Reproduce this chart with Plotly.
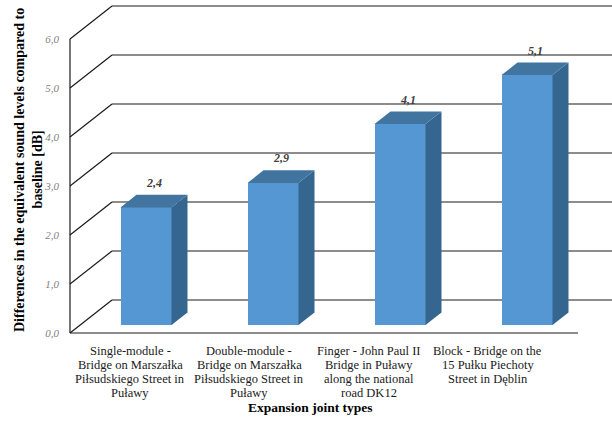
import plotly.graph_objects as go

# ---- data -------------------------------------------------------------
categories = [
    "Single-module -<br>Bridge on Marszałka<br>Piłsudskiego Street in<br>Puławy",
    "Double-module -<br>Bridge on Marszałka<br>Piłsudskiego Street in<br>Puławy",
    "Finger - John Paul II<br>Bridge in Puławy<br>along the national<br>road DK12",
    "Block - Bridge on the<br>15 Pułku Piechoty<br>Street in Dęblin",
]
values = [2.4, 2.9, 4.1, 5.1]
y_ticks = [0, 1, 2, 3, 4, 5, 6]

y_title = ["Differences in the equivalent sound levels compared to", "baseline [dB]"]
x_title = "Expansion joint types"

# ---- geometry (pixel scale of the pseudo-3D box) ------------------------
W, H = 612, 426
M_L, M_R, M_T, M_B = 66, 0, 0, 86
PX_PER_CAT = 127.0         # horizontal pixels per category
PX_PER_DB = 49.0           # vertical pixels per dB
FRONT_LEFT_PX = 70.0       # left edge of front plane
FRONT_ZERO_PX = 333.0      # baseline of front plane


def px_to_x(px):
    return (px - FRONT_LEFT_PX) / PX_PER_CAT - 0.5


def py_to_y(py):
    return (FRONT_ZERO_PX - py) / PX_PER_DB


def px_to_paper(px):
    return (px - M_L) / (W - M_L - M_R)


def py_to_paper(py):
    return (H - M_B - py) / (H - M_T - M_B)


x_range = [px_to_x(M_L), px_to_x(W - M_R)]
y_range = [py_to_y(H - M_B), py_to_y(M_T)]

# depth of the whole box (front plane -> back wall)
DX, DY = 42 / PX_PER_CAT, 33 / PX_PER_DB
# plane of the bars' front faces, and the bars' own depth
BAR_SHIFT_X, BAR_SHIFT_Y = 12.5 / PX_PER_CAT, 8 / PX_PER_DB
BAR_DX, BAR_DY = 16 / PX_PER_CAT, 12.6 / PX_PER_DB
BAR_W = 51 / PX_PER_CAT

n = len(categories)
x_front_left, x_front_right = -0.5, n - 0.5

COL_FRONT = "#5597d2"
COL_SIDE = "#35668f"
COL_TOP = "#41749f"
COL_LINE = "#1a1a1a"
SERIF = "Liberation Serif"

fig = go.Figure()

# front faces of the bars
bar_x = [i + BAR_SHIFT_X for i in range(n)]
fig.add_trace(go.Bar(
    x=bar_x, y=values, base=[BAR_SHIFT_Y] * n, width=BAR_W,
    marker=dict(color=COL_FRONT, line=dict(width=0)),
    hoverinfo="skip", showlegend=False,
))

# side and top faces
for xc, v in zip(bar_x, values):
    xr, xl = xc + BAR_W / 2, xc - BAR_W / 2
    y0, y1 = BAR_SHIFT_Y, BAR_SHIFT_Y + v
    fig.add_trace(go.Scatter(
        x=[xr, xr + BAR_DX, xr + BAR_DX, xr, xr],
        y=[y0, y0 + BAR_DY, y1 + BAR_DY, y1, y0],
        fill="toself", fillcolor=COL_SIDE, mode="lines",
        line=dict(width=0, color=COL_SIDE), hoverinfo="skip", showlegend=False,
    ))
    fig.add_trace(go.Scatter(
        x=[xl, xr, xr + BAR_DX, xl + BAR_DX, xl],
        y=[y1, y1, y1 + BAR_DY, y1 + BAR_DY, y1],
        fill="toself", fillcolor=COL_TOP, mode="lines",
        line=dict(width=0, color=COL_TOP), hoverinfo="skip", showlegend=False,
    ))

# box: back-wall gridlines, side-wall diagonals, front edges
shapes = []
line = dict(color=COL_LINE, width=1.2)
for t in y_ticks:
    shapes.append(dict(type="line", xref="x", yref="y", layer="below",
                       x0=x_front_left, y0=t, x1=x_front_left + DX, y1=t + DY, line=line))
    shapes.append(dict(type="line", xref="x", yref="y", layer="below",
                       x0=x_front_left + DX, y0=t + DY, x1=x_range[1] + 1, y1=t + DY, line=line))
shapes.append(dict(type="line", xref="x", yref="y", layer="below",
                   x0=x_front_left, y0=y_ticks[0], x1=x_front_left, y1=y_ticks[-1], line=line))
shapes.append(dict(type="line", xref="x", yref="y", layer="below",
                   x0=x_front_left, y0=0, x1=x_front_right, y1=0, line=line))

annotations = []
# value labels above each bar
for xc, v in zip(bar_x, values):
    annotations.append(dict(
        x=xc + BAR_DX / 2, y=BAR_SHIFT_Y + v + BAR_DY, xref="x", yref="y",
        text=f"{v:.1f}".replace(".", ","), showarrow=False, yanchor="bottom", yshift=3,
        font=dict(family=SERIF, size=12, color="#404040", style="italic", weight="bold"),
    ))

# category labels, one annotation per line
LABEL_START_PX, LABEL_STEP_PX = 130.0, 119.3
LINE0_PX, LINE_STEP_PX = 351.0, 14.0
for i, cat in enumerate(categories):
    for k, part in enumerate(cat.split("<br>")):
        annotations.append(dict(
            x=px_to_paper(LABEL_START_PX + LABEL_STEP_PX * i),
            y=py_to_paper(LINE0_PX + LINE_STEP_PX * k),
            xref="paper", yref="paper", text=part, showarrow=False,
            xanchor="center", yanchor="middle",
            font=dict(family=SERIF, size=12.5, color="#1a1a1a"),
        ))

annotations.append(dict(
    x=px_to_paper(310), y=py_to_paper(407), xref="paper", yref="paper", text=x_title,
    showarrow=False, xanchor="center", yanchor="middle",
    font=dict(family=SERIF, size=13.5, color="#000000", weight="bold"),
))
for k, part in enumerate(y_title):
    annotations.append(dict(
        x=px_to_paper(19 + 17.5 * k), y=py_to_paper(170), xref="paper", yref="paper", text=part,
        showarrow=False, textangle=-90, xanchor="center", yanchor="middle",
        font=dict(family=SERIF, size=14, color="#000000", weight="bold"),
    ))

fig.update_layout(
    width=W, height=H,
    margin=dict(l=M_L, r=M_R, t=M_T, b=M_B, pad=0),
    paper_bgcolor="white", plot_bgcolor="white",
    separators=", ",
    shapes=shapes, annotations=annotations,
    xaxis=dict(range=x_range, visible=False, fixedrange=True),
    yaxis=dict(
        range=y_range, tickvals=y_ticks, tickformat=".1f",
        showgrid=False, zeroline=False, showline=False, ticks="",
        ticklabelstandoff=6,
        tickfont=dict(family=SERIF, size=11, color="#7f7f7f", style="italic"),
        fixedrange=True,
    ),
    bargap=0,
)

fig.write_html("out.html")
